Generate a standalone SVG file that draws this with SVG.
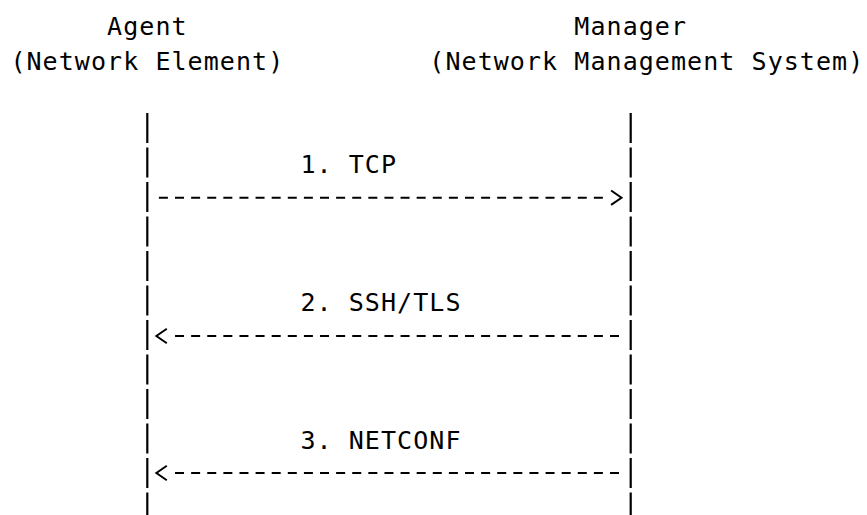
<svg xmlns="http://www.w3.org/2000/svg" width="867" height="515" viewBox="0 0 867 515">
<style>
  .t { font-family: "DejaVu Sans Mono", "Liberation Mono", monospace; font-size: 25px; letter-spacing: 1.06px; fill: #000; }
  .life { stroke: #000; stroke-width: 2.2; stroke-dasharray: 30 4.5; fill: none; }
  .msg { stroke: #000; stroke-width: 2; stroke-dasharray: 9 7.11; fill: none; marker-end: url(#head); }
</style>
<defs>
  <marker id="head" markerUnits="userSpaceOnUse" markerWidth="30" markerHeight="20" viewBox="0 -10 30 20" refX="0" refY="0" orient="auto" overflow="visible">
    <path d="M8.2,-7.2 L18.6,0 L8.2,7.2" fill="none" stroke="#000" stroke-width="2" stroke-linejoin="miter"/>
  </marker>
</defs>
<rect width="867" height="515" fill="#fff"/>
<g id="agent">
  <text class="t" x="107.1" y="35">Agent</text>
  <text class="t" x="10.4" y="69.5">(Network Element)</text>
  <line class="life" x1="147.3" y1="113" x2="147.3" y2="520"/>
</g>
<g id="manager">
  <text class="t" x="574.3" y="35">Manager</text>
  <text class="t" x="429.3" y="69.5">(Network Management System)</text>
  <line class="life" x1="630.7" y1="113" x2="630.7" y2="520"/>
</g>
<g id="connectors">
  <g id="msg-tcp">
    <text class="t" x="300.4" y="173">1. TCP</text>
    <line class="msg" x1="158.9" y1="197.7" x2="602.9" y2="197.7"/>
  </g>
  <g id="msg-ssh">
    <text class="t" x="300.4" y="311">2. SSH/TLS</text>
    <line class="msg" x1="619" y1="336" x2="175" y2="336"/>
  </g>
  <g id="msg-netconf">
    <text class="t" x="300.4" y="449">3. NETCONF</text>
    <line class="msg" x1="619" y1="473" x2="175" y2="473"/>
  </g>
</g>
</svg>
